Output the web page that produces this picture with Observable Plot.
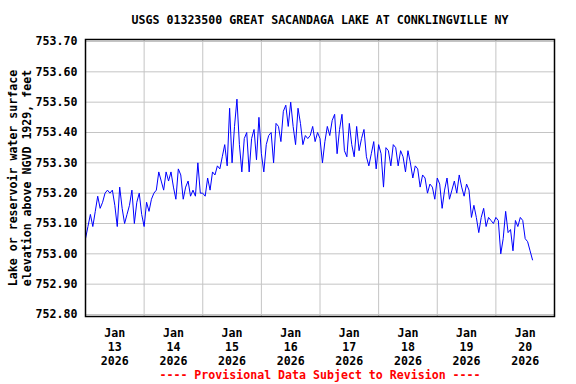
<!DOCTYPE html>
<html>
<head>
<meta charset="utf-8">
<script src="https://cdn.jsdelivr.net/npm/d3@7"></script>
<script src="https://cdn.jsdelivr.net/npm/@observablehq/plot@0.6"></script>
<style>
  html, body { margin: 0; padding: 0; background: #fff; }
</style>
</head>
<body>
<div id="chart"></div>
<script>
// Hourly gage-height readings (feet, NGVD 1929)
const jan13 = [753.05,753.09,753.13,753.09,753.14,753.19,753.15,753.17,753.20,753.21,753.20,753.21,
               753.16,753.09,753.22,753.15,753.10,753.13,753.16,753.21,753.10,753.17,753.20,753.13];
const jan14 = [753.09,753.17,753.14,753.18,753.20,753.21,753.27,753.24,753.21,753.27,753.24,753.27,
               753.22,753.18,753.28,753.26,753.18,753.22,753.24,753.19,753.21,753.19,753.30,753.20];
const jan15 = [753.20,753.19,753.25,753.21,753.27,753.26,753.29,753.28,753.32,753.36,753.29,753.48,
               753.30,753.42,753.51,753.36,753.27,753.38,753.40,753.27,753.38,753.41,753.31,753.45];
const jan16 = [753.33,753.27,753.36,753.39,753.40,753.30,753.43,753.42,753.37,753.47,753.49,753.42,
               753.50,753.42,753.36,753.48,753.43,753.36,753.39,753.38,753.39,753.42,753.37,753.40];
const jan17 = [753.38,753.30,753.37,753.42,753.39,753.44,753.46,753.33,753.41,753.46,753.34,753.32,
               753.43,753.36,753.32,753.42,753.34,753.38,753.41,753.32,753.29,753.33,753.37,753.28];
const jan18 = [753.36,753.33,753.22,753.35,753.34,753.29,753.36,753.35,753.29,753.34,753.32,753.27,
               753.34,753.30,753.25,753.29,753.28,753.22,753.26,753.25,753.20,753.23,753.22,753.18];
const jan19 = [753.25,753.23,753.15,753.21,753.25,753.18,753.21,753.24,753.20,753.26,753.22,753.19,
               753.23,753.21,753.12,753.16,753.12,753.07,753.12,753.15,753.09,753.12,753.11,753.10];
const jan20 = [753.12,753.11,753.00,753.05,753.14,753.07,753.08,753.01,753.11,753.09,753.12,753.11,
               753.05,753.04,753.01,752.98];

const seriesByDay = [jan13, jan14, jan15, jan16, jan17, jan18, jan19, jan20];
const tickDays = [13, 14, 15, 16, 17, 18, 19, 20];
const tickMonth = "Jan";
const tickYear = "2026";
const yTicks = [752.80, 752.90, 753.00, 753.10, 753.20, 753.30, 753.40, 753.50, 753.60, 753.70];

const titleText = "USGS 01323500 GREAT SACANDAGA LAKE AT CONKLINGVILLE NY";
const yLabelText = "Lake or reservoir water surface\nelevation above NGVD 1929, feet";
const footerText = "---- Provisional Data Subject to Revision ----";

const HOUR = 3600e3, DAY = 24 * HOUR;
const start = Date.UTC(2026, 0, 13);

const data = seriesByDay.flatMap((arr, d) =>
  arr.map((v, h) => ({ t: new Date(start + d * DAY + h * HOUR), v })));

const noonDates = tickDays.map(d => new Date(Date.UTC(2026, 0, d, 12)));
const midnightDates = tickDays.slice(1).map(d => new Date(Date.UTC(2026, 0, d)));

const chart = Plot.plot({
  width: 576,
  height: 384,
  marginLeft: 85,
  marginRight: 22,
  marginTop: 39,
  marginBottom: 68,
  style: {
    fontFamily: "'DejaVu Sans Mono', monospace",
    fontWeight: "bold",
    fontSize: "11.6px",
    background: "#ffffff",
    color: "#000000"
  },
  x: { type: "utc", domain: [new Date(start), new Date(start + 8 * DAY)] },
  y: { domain: [752.8, 753.7], insetTop: 2, insetBottom: 2 },
  marks: [
    Plot.gridY(yTicks, { stroke: "#c4c4c4", strokeOpacity: 1, strokeWidth: 1 }),
    Plot.gridX(midnightDates, { stroke: "#c4c4c4", strokeOpacity: 1, strokeWidth: 1 }),
    Plot.line(data, { x: "t", y: "v", stroke: "#0000ff", strokeWidth: 1 }),
    Plot.frame({ stroke: "#000000", strokeWidth: 1.5 }),
    Plot.axisY(yTicks, { tickSize: 0, tickPadding: 8, tickFormat: d => d.toFixed(2), label: null }),
    Plot.axisX(noonDates, {
      tickSize: 0, tickPadding: 10, lineHeight: 1.22, label: null,
      tickFormat: d => `${tickMonth}\n${d.getUTCDate()}\n${tickYear}`
    }),
    Plot.text([yLabelText], {
      frameAnchor: "left", textAnchor: "middle", lineAnchor: "middle",
      rotate: -90, dx: -66, lineHeight: 1.22, fill: "#000"
    }),
    Plot.text([titleText], { frameAnchor: "top", lineAnchor: "middle", dy: -19, fill: "#000" }),
    Plot.text([footerText], { frameAnchor: "bottom", lineAnchor: "middle", dy: 59, fill: "#ff0000" })
  ]
});

document.getElementById("chart").appendChild(chart);
</script>
</body>
</html>
